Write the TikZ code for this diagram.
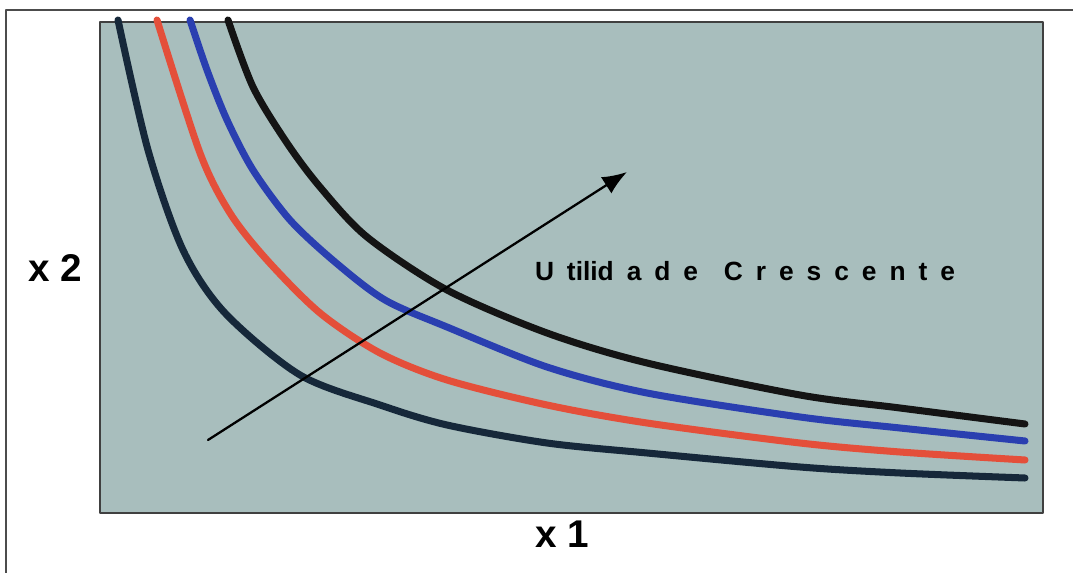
\documentclass[tikz,border=0pt]{standalone}
\usepackage{fontspec}
\setmainfont{Liberation Sans}
\usetikzlibrary{arrows.meta}
\definecolor{panel}{HTML}{A8BEBD}
\definecolor{ucnavy}{HTML}{16283A}
\definecolor{ucred}{HTML}{E44F3A}
\definecolor{ucblue}{HTML}{2A3FB0}
\tikzset{
  every picture/.style={line join=round, line cap=round, >=Stealth},
  curve/.style={line width=4pt, smooth, tension=0.5},
  axislabel/.style={font=\bfseries\fontsize{22}{22}\selectfont},
}
\begin{document}
\begin{tikzpicture}[x=0.02cm,y=-0.02cm]
\useasboundingbox (0,0) rectangle (1073,573);
\draw[line width=0.8pt,black!70](6,573)--(6,10)--(1073,10);
\fill[panel](100,22)rectangle(1043,513);
\draw[line width=1.2pt,black!75](100,22)rectangle(1043,513);
% indifference curves
\draw[curve,ucnavy]plot coordinates{(118,20)(148,150)(183,250)(225,313)(300,375)(380,405)(447,425)(547,443)(647,453)(800,467)(900,473)(1025,478)};
\draw[curve,ucred]plot coordinates{(157,20)(200,153)(230,213)(267,260)(320,313)(380,353)(447,380)(547,405)(647,423)(800,443)(900,452)(1025,460)};
\draw[curve,ucblue]plot coordinates{(190,20)(207,70)(227,120)(253,170)(290,220)(335,262)(385,300)(447,327)(547,367)(647,393)(800,417)(900,428)(1025,441)};
\draw[curve,black!92]plot coordinates{(228,20)(253,87)(287,143)(320,187)(367,237)(447,290)(547,333)(647,363)(800,395)(900,408)(1025,424)};
\coordinate(arrstart)at(208,440);
\coordinate(arrtip)at(627,172);
\draw[->,line width=1.3pt,>={Latex[length=14pt,width=11pt]}](arrstart)--(arrtip);
\node[font=\bfseries\fontsize{15}{15}\selectfont](utilidade)at(745,271)
  {\makebox[8.4cm][s]{U tilid a d e \ C r e s c e n t e}};
\node[axislabel](xtwo)at(55,268){x 2};
\node[axislabel](xone)at(562,534){x 1};
\end{tikzpicture}
\end{document}
